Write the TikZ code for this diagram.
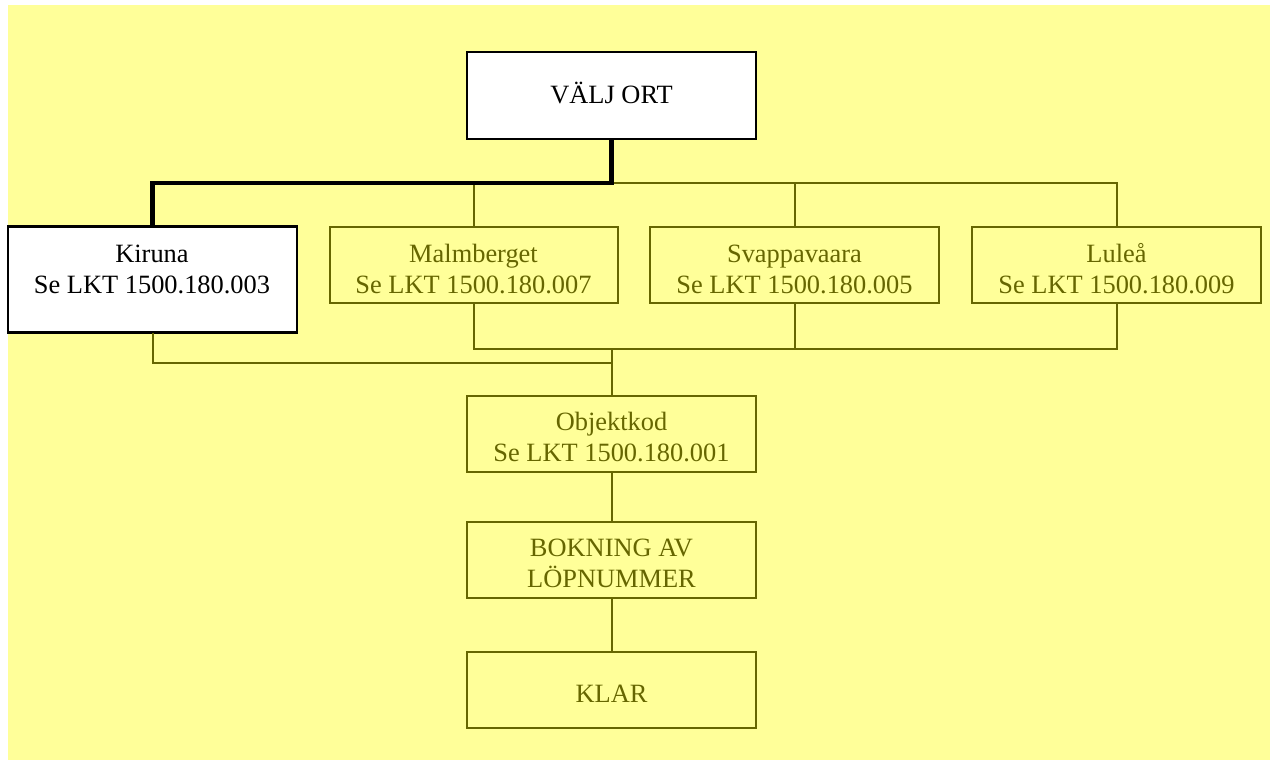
\documentclass[tikz,border=0pt]{standalone}
\usepackage{fontspec}
\setmainfont{Liberation Serif}
\definecolor{bgy}{HTML}{FFFF99}
\definecolor{olive}{HTML}{666600}
\begin{document}
\begin{tikzpicture}[x=1pt,y=-1pt,
  box/.style={draw=olive,line width=2pt,fill=bgy,inner sep=0pt,outer sep=0pt,anchor=north west},
  blkbox/.style={draw=black,line width=2.6pt,fill=white,inner sep=0pt,outer sep=0pt,anchor=north west},
  txt/.style={font=\fontsize{26.4}{31}\selectfont,text=olive,anchor=base,inner sep=0pt},
  blktxt/.style={txt,text=black},
  conn/.style={draw=olive,line width=2pt},
  thick conn/.style={draw=black,line width=4.8pt}]
\useasboundingbox (0,0) rectangle (1270,760);
\fill[bgy] (8,5) rectangle (1270,760);
% boxes
\node[blkbox,minimum width=289pt,minimum height=87pt] (valj) at (467,52) {};
\node[blkbox,minimum width=289pt,minimum height=106pt] (kir) at (8,226.5) {};
\node[box,minimum width=288pt,minimum height=76pt] (mal) at (330,226.5) {};
\node[box,minimum width=289pt,minimum height=76pt] (sva) at (650,226.5) {};
\node[box,minimum width=289pt,minimum height=76pt] (lul) at (972,226.5) {};
\node[box,minimum width=289pt,minimum height=76pt] (obj) at (467,395.7) {};
\node[box,minimum width=289pt,minimum height=76pt] (bok) at (467,522) {};
\node[box,minimum width=289pt,minimum height=76pt] (kla) at (467,652) {};
% texts
\node[blktxt] (valjt) at (611.5,103.3) {VÄLJ ORT};
\node[blktxt] (kirt1) at (152,262) {Kiruna};
\node[blktxt] (kirt2) at (152,293.3) {Se LKT 1500.180.003};
\node[txt] (malt1) at (473.5,262) {Malmberget};
\node[txt] (malt2) at (473.5,293.3) {Se LKT 1500.180.007};
\node[txt] (svat1) at (794.5,262) {Svappavaara};
\node[txt] (svat2) at (794.5,293.3) {Se LKT 1500.180.005};
\node[txt] (lult1) at (1116.5,262) {Luleå};
\node[txt] (lult2) at (1116.5,293.3) {Se LKT 1500.180.009};
\node[txt] (objt1) at (611.5,430.7) {Objektkod};
\node[txt] (objt2) at (611.5,461.7) {Se LKT 1500.180.001};
\node[txt] (bokt1) at (611.5,556.7) {BOKNING AV};
\node[txt] (bokt2) at (611.5,587.3) {LÖPNUMMER};
\node[txt] (klat) at (611.5,702.7) {KLAR};
% junction coordinates
\coordinate (jtop) at (valj.south |- 0,183);
\coordinate (jmid) at (obj.north |- 0,349);
\coordinate (jlow) at (obj.north |- 0,363);
% connectors (thin)
\draw[conn] (jtop) -| (mal.north);
\draw[conn] (jtop) -| (sva.north);
\draw[conn] (jtop) -| (lul.north);
\draw[conn] (mal.south) |- (jmid);
\draw[conn] (sva.south) |- (jmid);
\draw[conn] (lul.south) |- (jmid);
\draw[conn] (kir.south) |- (jlow);
\draw[conn] (jmid) -- (obj.north);
\draw[conn] (obj.south) -- (bok.north);
\draw[conn] (bok.south) -- (kla.north);
% thick path
\draw[thick conn,line join=miter] (valj.south) -- (jtop) -| (kir.north);
\end{tikzpicture}
\end{document}
